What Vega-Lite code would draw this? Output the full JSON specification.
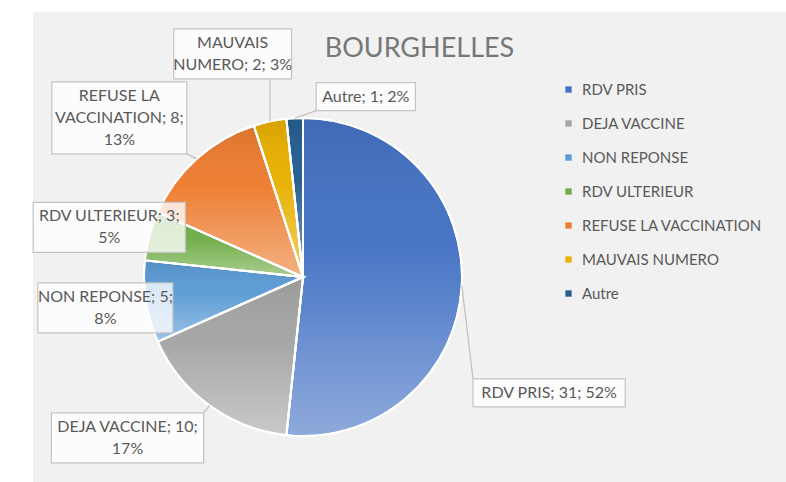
{
  "$schema": "https://vega.github.io/schema/vega-lite/v6.json",
  "width": 753,
  "height": 470,
  "autosize": {"type": "none"},
  "padding": {"left": 33, "top": 12, "right": 0, "bottom": 0},
  "background": "white",
  "view": {"fill": "#f1f1f1", "stroke": null},
  "title": {
    "text": "BOURGHELLES",
    "anchor": "middle",
    "offset": 0,
    "baseline": "alphabetic",
    "dx": 10,
    "dy": 72,
    "font": "Lato",
    "fontSize": 27,
    "fontWeight": "normal",
    "color": "#777777"
  },
  "data": {
    "values": [
      {"cat": "RDV PRIS", "n": 31, "label": "RDV PRIS; 31; 52%"},
      {"cat": "DEJA VACCINE", "n": 10, "label": "DEJA VACCINE; 10;\n17%"},
      {"cat": "NON REPONSE", "n": 5, "label": "NON REPONSE; 5;\n8%"},
      {"cat": "RDV ULTERIEUR", "n": 3, "label": "RDV ULTERIEUR; 3;\n5%"},
      {"cat": "REFUSE LA VACCINATION", "n": 8, "label": "REFUSE LA\nVACCINATION; 8;\n13%"},
      {"cat": "MAUVAIS NUMERO", "n": 2, "label": "MAUVAIS\nNUMERO; 2; 3%"},
      {"cat": "Autre", "n": 1, "label": "Autre; 1; 2%"}
    ]
  },
  "transform": [
    {"window": [{"op": "row_number", "as": "idx"}]},
    {"joinaggregate": [{"op": "sum", "field": "n", "as": "total"}]},
    {"window": [{"op": "sum", "field": "n", "as": "cum"}], "sort": [{"field": "idx"}], "frame": [null, 0]},
    {"calculate": "(datum.cum - datum.n / 2) / datum.total * 2 * PI", "as": "mid"},
    {"calculate": "datum.idx - 1", "as": "k"},
    {"calculate": "datum.mid + [22.2, 11.5, 0.1, -0.65, -7.1, -5.5, 22.2][datum.k] * PI / 180", "as": "la"},
    {"calculate": "[272, 238, 200, 200, 243, 234, 191][datum.k]", "as": "lr"},
    {"calculate": "datum.lr * sin(datum.la)", "as": "lx"},
    {"calculate": "datum.lr * cos(datum.la)", "as": "ly"},
    {"calculate": "split(datum.label, '\\n')", "as": "lines"},
    {"calculate": "length(datum.lines)", "as": "nl"},
    {"calculate": "datum.ly + (datum.nl - 1) * 11", "as": "ty"},
    {"calculate": "max(8.6 * length(datum.lines[0]) - 2.5 * (length(datum.lines[0]) - length(replace(datum.lines[0], regexp('[a-z]', 'g'), ''))), datum.nl > 1 ? 8.6 * length(datum.lines[1]) : 0, datum.nl > 2 ? 8.6 * length(datum.lines[2]) : 0) + 6", "as": "bw"},
    {"calculate": "22 * datum.nl + 6", "as": "bh"},
    {"calculate": "datum.lx - datum.bw / 2", "as": "bx1"},
    {"calculate": "datum.lx + datum.bw / 2", "as": "bx2"},
    {"calculate": "datum.ly - datum.bh / 2", "as": "by1"},
    {"calculate": "datum.ly + datum.bh / 2", "as": "by2"},
    {"calculate": "159 * sin(datum.mid)", "as": "ex"},
    {"calculate": "159 * cos(datum.mid)", "as": "ey"},
    {"calculate": "clamp(datum.ex, datum.bx1, datum.bx2)", "as": "nx"},
    {"calculate": "clamp(datum.ey, datum.by1, datum.by2)", "as": "ny"}
  ],
  "layer": [
    {
      "mark": {"type": "arc", "outerRadius": 159, "stroke": "white", "strokeWidth": 2},
      "encoding": {
        "x": {"datum": 0, "type": "quantitative", "scale": {"domain": [-270, 483], "nice": false, "zero": false}, "axis": null},
        "y": {"datum": 0, "type": "quantitative", "scale": {"domain": [-205, 265], "nice": false, "zero": false}, "axis": null},
        "theta": {"field": "n", "type": "quantitative", "stack": true},
        "order": {"field": "idx", "type": "quantitative"},
        "color": {
          "field": "cat",
          "type": "nominal",
          "scale": {
            "domain": ["RDV PRIS", "DEJA VACCINE", "NON REPONSE", "RDV ULTERIEUR", "REFUSE LA VACCINATION", "MAUVAIS NUMERO", "Autre"],
            "range": ["#4472C4", "#A5A5A5", "#5B9BD5", "#70AD47", "#ED7D31", "#E8B000", "#255E91"]
          },
          "legend": {
            "orient": "none",
            "legendX": 528,
            "legendY": 70,
            "title": null,
            "padding": 0,
            "symbolType": "square",
            "symbolSize": 40,
            "symbolStrokeWidth": 0,
            "labelFont": "Lato",
            "labelFontSize": 15,
            "labelColor": "#595959",
            "labelOffset": 6,
            "rowPadding": 18,
            "labelLimit": 300
          }
        }
      }
    },
    {
      "mark": {
        "type": "arc",
        "outerRadius": 159,
        "stroke": "white",
        "strokeWidth": 2,
        "fill": {
          "gradient": "linear",
          "x1": 0, "y1": 0, "x2": 0, "y2": 1,
          "stops": [
            {"offset": 0, "color": "rgba(0,0,0,0.08)"},
            {"offset": 0.4, "color": "rgba(255,255,255,0.02)"},
            {"offset": 1, "color": "rgba(255,255,255,0.4)"}
          ]
        }
      },
      "encoding": {
        "x": {"datum": 0, "type": "quantitative"},
        "y": {"datum": 0, "type": "quantitative"},
        "theta": {"field": "n", "type": "quantitative", "stack": true},
        "order": {"field": "idx", "type": "quantitative"}
      }
    },
    {
      "mark": {"type": "rule", "color": "#bfbfbf", "strokeWidth": 1.2},
      "encoding": {
        "x": {"field": "ex", "type": "quantitative"},
        "y": {"field": "ey", "type": "quantitative"},
        "x2": {"field": "nx"},
        "y2": {"field": "ny"}
      }
    },
    {
      "mark": {"type": "rect", "fill": "white", "fillOpacity": 0.78, "stroke": "#c4c4c4", "strokeWidth": 1.2},
      "encoding": {
        "x": {"field": "bx1", "type": "quantitative"},
        "x2": {"field": "bx2"},
        "y": {"field": "by1", "type": "quantitative"},
        "y2": {"field": "by2"}
      }
    },
    {
      "mark": {"type": "text", "font": "Lato", "fontSize": 16, "color": "#595959", "lineBreak": "\n", "lineHeight": 22, "align": "center", "baseline": "middle"},
      "encoding": {
        "x": {"field": "lx", "type": "quantitative"},
        "y": {"field": "ty", "type": "quantitative"},
        "text": {"field": "label", "type": "nominal"}
      }
    }
  ]
}
